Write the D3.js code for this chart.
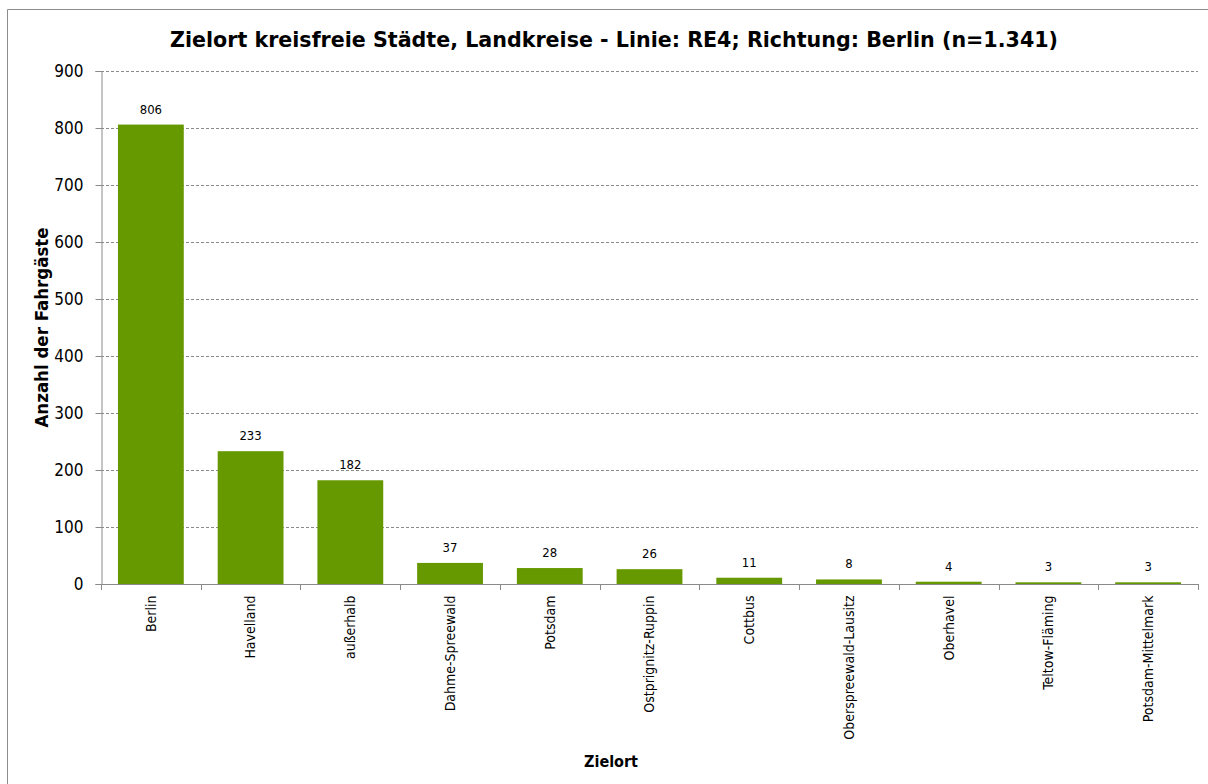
<!DOCTYPE html>
<html><head><meta charset="utf-8">
<script src="https://cdn.jsdelivr.net/npm/d3@7"></script>
<style>
html,body{margin:0;padding:0;background:#fff;overflow:hidden;}
svg{display:block;}
text{font-family:"DejaVu Sans Condensed","DejaVu Sans",sans-serif;}
</style></head>
<body>
<svg id="chart" width="1208" height="784"></svg>
<script>
const categories = ["Berlin","Havelland","außerhalb","Dahme-Spreewald","Potsdam","Ostprignitz-Ruppin","Cottbus","Oberspreewald-Lausitz","Oberhavel","Teltow-Fläming","Potsdam-Mittelmark"];
const values = [806,233,182,37,28,26,11,8,4,3,3];
const yTicks = [0,100,200,300,400,500,600,700,800,900];
const titleText = "Zielort kreisfreie Städte, Landkreise - Linie: RE4; Richtung: Berlin (n=1.341)";
const yTitle = "Anzahl der Fahrgäste";
const xTitle = "Zielort";

const svg = d3.select("#chart");
const pL = 101, pR = 1198, pT = 71, pB = 584;

// frame (top and left edges only; the rest lies outside the picture)
svg.append("path").attr("d","M7.5,784V9.5H1208")
  .attr("fill","none").attr("stroke","#8c8c8c").attr("stroke-width",1);

const x = d3.scaleBand().domain(categories).range([pL,pR]).paddingInner(0.34).paddingOuter(0.17);
const y = d3.scaleLinear().domain([0,900]).range([pB,pT]);

// gridlines
svg.append("g").selectAll("line").data(yTicks.filter(d=>d>0)).join("line")
  .attr("x1",pL).attr("x2",pR)
  .attr("y1",d=>Math.round(y(d))+0.5).attr("y2",d=>Math.round(y(d))+0.5)
  .attr("stroke","#8a8a8a").attr("stroke-width",1).attr("stroke-dasharray","3,2");

// bars
svg.append("g").selectAll("rect").data(values).join("rect")
  .attr("x",(d,i)=>x(categories[i])).attr("width",x.bandwidth())
  .attr("y",d=>y(d)).attr("height",d=>pB-y(d))
  .attr("fill","#669900");

// value labels
svg.append("g").selectAll("text").data(values).join("text")
  .attr("x",(d,i)=>x(categories[i])+x.bandwidth()/2).attr("y",d=>y(d)-11)
  .attr("text-anchor","middle").attr("font-size",13).attr("fill","#000")
  .attr("font-family",'"DejaVu Sans",sans-serif')
  .text(d=>d);

// y axis
const yAxis = svg.append("g").attr("transform",`translate(${pL+0.5},0)`)
  .call(d3.axisLeft(y).tickValues(yTicks).tickSize(6).tickPadding(12).tickFormat(d3.format("d")));
yAxis.select(".domain").attr("stroke","#8a8a8a");
yAxis.selectAll(".tick line").attr("stroke","#8a8a8a");
yAxis.selectAll(".tick text").attr("font-size",17).attr("fill","#000")
  .attr("font-family",'"DejaVu Sans Condensed","DejaVu Sans",sans-serif');

// x axis
const xAxis = svg.append("g").attr("transform",`translate(0,${pB+0.5})`)
  .call(d3.axisBottom(x).tickSize(0).tickPadding(0));
xAxis.select(".domain").attr("stroke","#8a8a8a").attr("d",`M${pL},0H${pR}`);
xAxis.selectAll(".tick text")
  .attr("transform","rotate(-90)").attr("text-anchor","end")
  .attr("x",-11).attr("y",0).attr("dy","0.35em")
  .attr("font-size",14).attr("fill","#000")
  .attr("font-family",'"DejaVu Sans",sans-serif');
// category boundary ticks
const bounds = d3.range(categories.length+1).map(i=>pL + i*(pR-pL)/categories.length);
svg.append("g").selectAll("line").data(bounds).join("line")
  .attr("x1",d=>Math.round(d)+0.5).attr("x2",d=>Math.round(d)+0.5)
  .attr("y1",pB).attr("y2",pB+6).attr("stroke","#8a8a8a");

// titles
svg.append("text").attr("x",614).attr("y",47).attr("text-anchor","middle")
  .attr("font-size",22).attr("font-weight","bold").attr("fill","#000")
  .attr("textLength",888).attr("lengthAdjust","spacingAndGlyphs").text(titleText);
svg.append("text").attr("transform",`translate(48,${(pT+pB)/2}) rotate(-90)`)
  .attr("text-anchor","middle").attr("font-size",18.5).attr("font-weight","bold").attr("fill","#000").text(yTitle);
svg.append("text").attr("x",611).attr("y",767).attr("text-anchor","middle")
  .attr("font-size",16).attr("font-weight","bold").attr("fill","#000").text(xTitle);
</script>
</body></html>
